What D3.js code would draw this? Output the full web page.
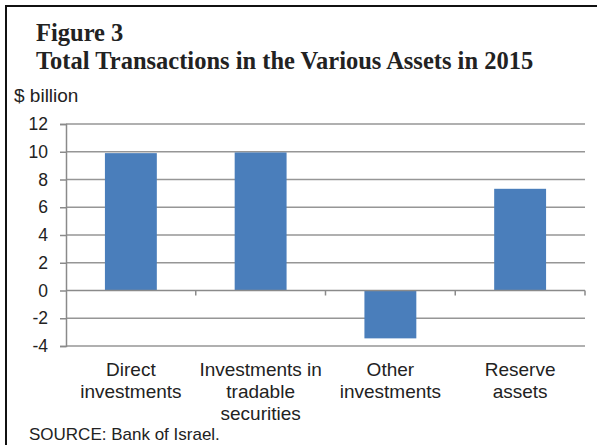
<!DOCTYPE html>
<html>
<head>
<meta charset="utf-8">
<script src="https://cdn.jsdelivr.net/npm/d3@7"></script>
<style>
  body { margin: 0; background: #fff; }
  svg { display: block; }
</style>
</head>
<body>
<svg id="chart" width="597" height="445"></svg>
<script>
// data
const categories = ["Direct investments", "Investments in tradable securities", "Other investments", "Reserve assets"];
const labelLines = [["Direct", "investments"], ["Investments in", "tradable", "securities"], ["Other", "investments"], ["Reserve", "assets"]];
const values = [9.9, 9.95, -3.45, 7.33];
const yTicks = [-4, -2, 0, 2, 4, 6, 8, 10, 12];

const svg = d3.select("#chart");
const sans = "'Liberation Sans', Arial, sans-serif";
const serif = "'Liberation Serif', 'Times New Roman', serif";

// outer frame (cut off on the right and bottom like the scan)
svg.append("rect")
  .attr("x", 6).attr("y", 6)
  .attr("width", 600).attr("height", 450)
  .attr("fill", "none")
  .attr("stroke", "#111")
  .attr("stroke-width", 2);

// titles
svg.append("text")
  .attr("x", 36).attr("y", 41)
  .style("font-family", serif)
  .style("font-weight", "bold")
  .style("font-size", "24.5px")
  .attr("fill", "#222")
  .text("Figure 3");

svg.append("text")
  .attr("x", 36).attr("y", 69)
  .style("font-family", serif)
  .style("font-weight", "bold")
  .style("font-size", "24.5px")
  .attr("fill", "#222")
  .text("Total Transactions in the Various Assets in 2015");

svg.append("text")
  .attr("x", 14).attr("y", 102)
  .style("font-family", sans)
  .style("font-size", "19px")
  .attr("fill", "#222")
  .text("$ billion");

const plotLeft = 66, plotRight = 585, plotTop = 124, plotBottom = 346;

const x = d3.scaleBand()
  .domain(categories)
  .range([plotLeft, plotRight])
  .paddingInner(0.6)
  .paddingOuter(0.3);

const y = d3.scaleLinear()
  .domain([-4, 12])
  .range([plotBottom, plotTop]);

// gridlines
svg.append("g")
  .selectAll("line")
  .data(yTicks.filter(d => d !== 0))
  .join("line")
  .attr("x1", plotLeft).attr("x2", plotRight)
  .attr("y1", d => y(d)).attr("y2", d => y(d))
  .attr("stroke", "#969696")
  .attr("stroke-width", 1.5);

// y axis
const yAxis = svg.append("g")
  .attr("transform", `translate(${plotLeft},0)`)
  .call(d3.axisLeft(y).tickValues(yTicks).tickFormat(d => String(d)).tickSize(6).tickPadding(12));
yAxis.select(".domain").attr("stroke", "#8a8a8a").attr("stroke-width", 1.5);
yAxis.selectAll(".tick line").attr("stroke", "#8a8a8a").attr("stroke-width", 1.5);
yAxis.selectAll(".tick text")
  .style("font-family", sans)
  .style("font-size", "17.5px")
  .attr("fill", "#222");

// bars
svg.append("g")
  .selectAll("rect")
  .data(values)
  .join("rect")
  .attr("x", (d, i) => x(categories[i]))
  .attr("width", x.bandwidth())
  .attr("y", d => y(Math.max(0, d)))
  .attr("height", d => Math.abs(y(d) - y(0)))
  .attr("fill", "#4a7ebb");

// zero line with category ticks
const catWidth = (plotRight - plotLeft) / categories.length;
const boundaries = d3.range(1, categories.length + 1).map(i => plotLeft + i * catWidth);
svg.append("line")
  .attr("x1", plotLeft).attr("x2", plotRight)
  .attr("y1", y(0)).attr("y2", y(0))
  .attr("stroke", "#8a8a8a")
  .attr("stroke-width", 1.5);
svg.append("g")
  .selectAll("line")
  .data(boundaries)
  .join("line")
  .attr("x1", d => d).attr("x2", d => d)
  .attr("y1", y(0)).attr("y2", y(0) + 5)
  .attr("stroke", "#8a8a8a")
  .attr("stroke-width", 1.5);

// category labels
const lab = svg.append("g")
  .selectAll("text")
  .data(categories)
  .join("text")
  .attr("x", d => x(d) + x.bandwidth() / 2)
  .attr("y", 376)
  .attr("text-anchor", "middle")
  .style("font-family", sans)
  .style("font-size", "19px")
  .attr("fill", "#222");
lab.selectAll("tspan")
  .data((d, i) => labelLines[i])
  .join("tspan")
  .attr("x", function() { return d3.select(this.parentNode).attr("x"); })
  .attr("dy", (d, i) => i === 0 ? 0 : 22)
  .text(d => d);

svg.append("text")
  .attr("x", 29).attr("y", 440)
  .style("font-family", sans)
  .style("font-size", "17px")
  .attr("fill", "#222")
  .text("SOURCE: Bank of Israel.");
</script>
</body>
</html>
